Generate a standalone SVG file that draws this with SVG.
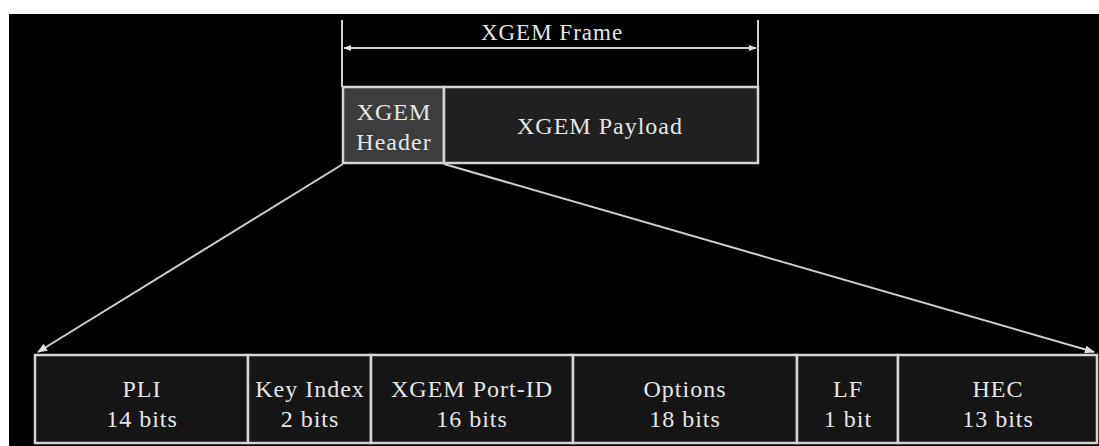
<svg xmlns="http://www.w3.org/2000/svg" width="1099" height="446" viewBox="0 0 1099 446">
  <defs>
    <style>
      .bg { fill: #000; }
      .box { stroke: #d4d4d4; stroke-width: 2.5; }
      .hdr { fill: #3d3d3d; }
      .pay { fill: #202020; }
      .fld { fill: #151515; }
      .line { stroke: #cfcfcf; stroke-width: 2; fill: none; }
      .txt { font-family: "Liberation Serif", "DejaVu Serif", serif; font-size: 24px; letter-spacing: 1px; fill: #e6e6e6; text-anchor: middle; }
    </style>
    <marker id="ah" viewBox="0 0 10 10" refX="9" refY="5" markerWidth="8" markerHeight="8" markerUnits="userSpaceOnUse" orient="auto-start-reverse">
      <path d="M0,1 L10,5 L0,9 Z" fill="#e0e0e0"/>
    </marker>
    <marker id="ah2" viewBox="0 0 10 10" refX="9" refY="5" markerWidth="12" markerHeight="10" markerUnits="userSpaceOnUse" orient="auto">
      <path d="M0,1 L10,5 L0,9 Z" fill="#e0e0e0"/>
    </marker>
  </defs>
  <rect x="0" y="0" width="1099" height="446" fill="#fff"/>
  <rect class="bg" x="9" y="14" width="1090" height="432"/>

  <g id="frame-dim">
    <line class="line" x1="342" y1="20" x2="342" y2="87"/>
    <line class="line" x1="758" y1="20" x2="758" y2="87"/>
    <line class="line" x1="344" y1="48" x2="756" y2="48" marker-start="url(#ah)" marker-end="url(#ah)"/>
    <text class="txt" x="552" y="40" style="font-size:23px">XGEM Frame</text>
  </g>

  <g id="xgem-header">
    <rect class="box hdr" x="343" y="87" width="101" height="76"/>
    <text class="txt" x="394" y="120">XGEM</text>
    <text class="txt" x="394" y="150">Header</text>
  </g>
  <g id="xgem-payload">
    <rect class="box pay" x="444" y="87" width="314" height="76"/>
    <text class="txt" x="600" y="134">XGEM Payload</text>
  </g>

  <g id="connectors">
    <line class="line" x1="343" y1="164" x2="38" y2="352" marker-end="url(#ah2)"/>
    <line class="line" x1="444" y1="164" x2="1094" y2="352" marker-end="url(#ah2)"/>
  </g>

  <g id="pli">
    <rect class="box fld" x="35" y="355" width="213" height="88"/>
    <text class="txt" x="142" y="397">PLI</text>
    <text class="txt" x="142" y="427">14 bits</text>
  </g>
  <g id="key-index">
    <rect class="box fld" x="248" y="355" width="123" height="88"/>
    <text class="txt" x="310" y="397">Key Index</text>
    <text class="txt" x="310" y="427">2 bits</text>
  </g>
  <g id="port-id">
    <rect class="box fld" x="371" y="355" width="202" height="88"/>
    <text class="txt" x="472" y="397">XGEM Port-ID</text>
    <text class="txt" x="472" y="427">16 bits</text>
  </g>
  <g id="options">
    <rect class="box fld" x="573" y="355" width="224" height="88"/>
    <text class="txt" x="685" y="397">Options</text>
    <text class="txt" x="685" y="427">18 bits</text>
  </g>
  <g id="lf">
    <rect class="box fld" x="797" y="355" width="101" height="88"/>
    <text class="txt" x="848" y="397">LF</text>
    <text class="txt" x="848" y="427">1 bit</text>
  </g>
  <g id="hec">
    <rect class="box fld" x="898" y="355" width="199" height="88"/>
    <text class="txt" x="998" y="397">HEC</text>
    <text class="txt" x="998" y="427">13 bits</text>
  </g>
</svg>
